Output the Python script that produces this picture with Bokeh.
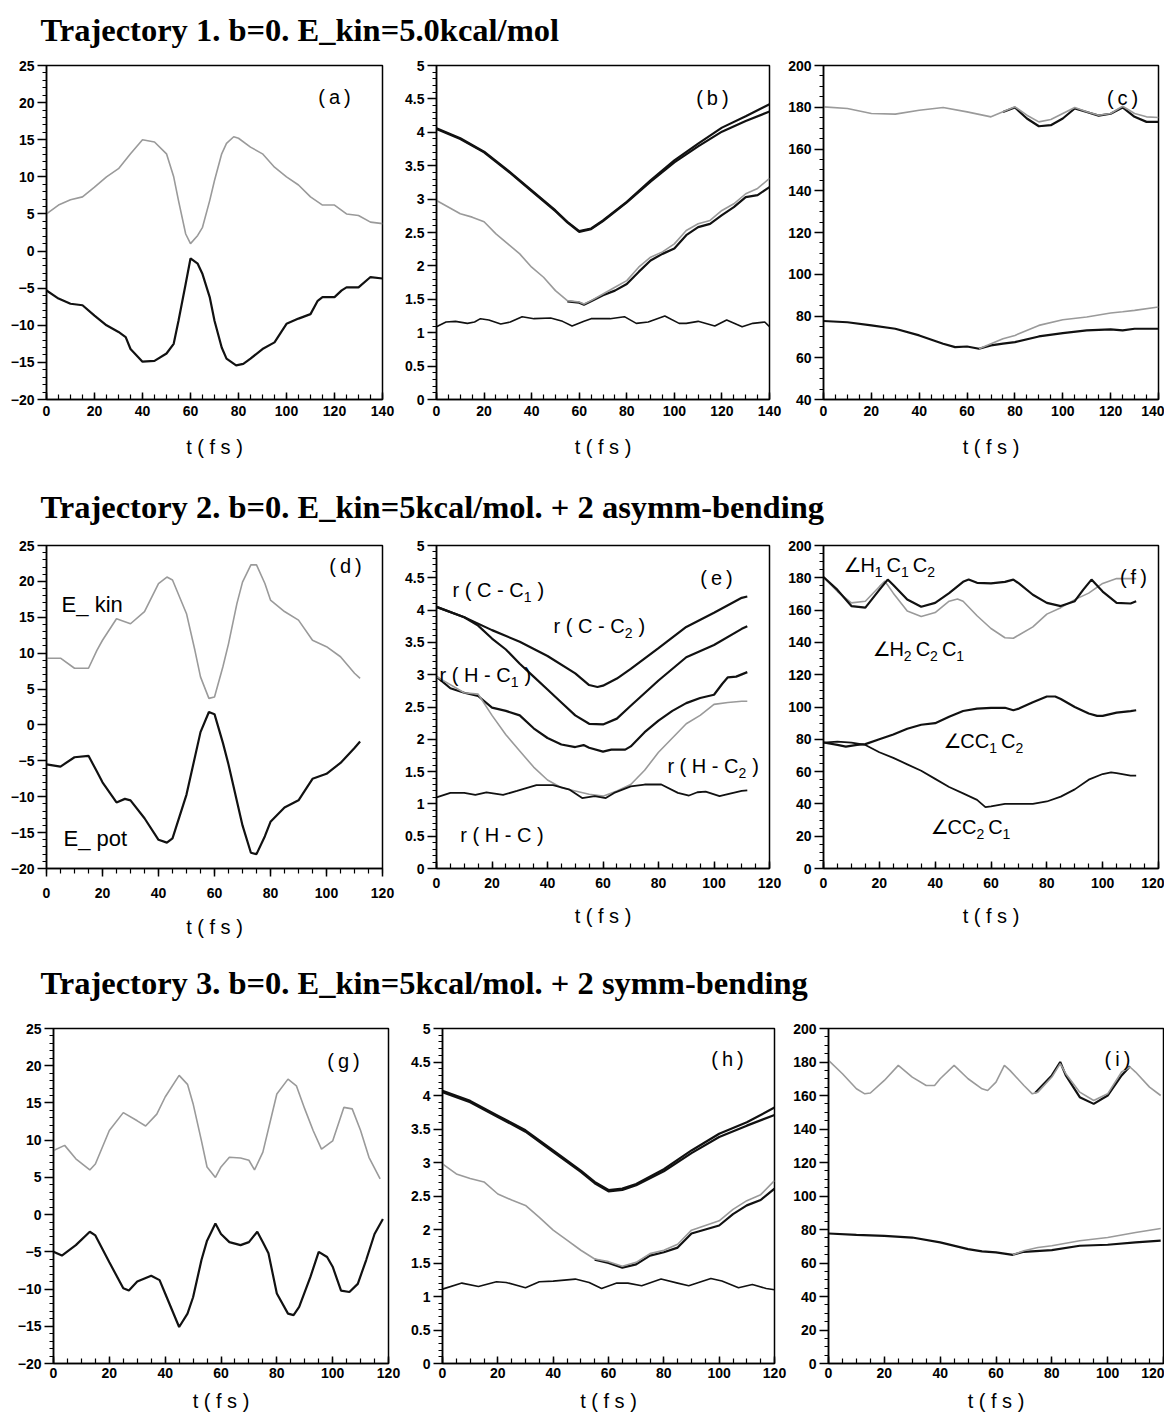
from bokeh.plotting import figure
from bokeh.models import Range1d, FixedTicker, Label, NumeralTickFormatter
from bokeh.layouts import column, row
from bokeh.embed import file_html
from bokeh.resources import INLINE

# ---------------- data ----------------
TITLES = ["Trajectory 1. b=0. E_kin=5.0kcal/mol",
          "Trajectory 2. b=0. E_kin=5kcal/mol. + 2 asymm-bending",
          "Trajectory 3. b=0. E_kin=5kcal/mol. + 2 symm-bending"]
XLABEL = "t ( f s )"

# (a) energies, trajectory 1
a_tk = [0,5,10,15,20,25,30,35,40,45,50,53,55,58,60,63,65,68,70,73,75,78,80,85,90,95,100,105,110,115,120,125,130,135,140]
a_kin = [5.0,6.2,6.9,7.3,8.6,10.0,11.1,13.1,15.0,14.7,13.1,10.0,6.8,2.3,1.0,2.1,3.2,6.8,9.5,13.1,14.5,15.4,15.2,14.0,13.1,11.3,10.0,8.9,7.3,6.2,6.2,5.0,4.8,3.9,3.7]
a_tp = [0,5,10,15,20,25,30,33,35,40,45,50,53,55,58,60,63,65,68,70,73,75,79,82,85,90,95,100,105,110,113,115,120,123,125,130,135,140]
a_pot = [-5.3,-6.4,-7.1,-7.3,-8.7,-10.0,-10.9,-11.6,-13.2,-14.9,-14.8,-13.8,-12.5,-9.4,-4.4,-1.0,-1.7,-3.1,-6.2,-9.4,-13.0,-14.5,-15.4,-15.2,-14.5,-13.2,-12.3,-9.8,-9.1,-8.5,-6.7,-6.2,-6.2,-5.3,-4.9,-4.9,-3.5,-3.7]

# (b) distances, trajectory 1
b_t = [0,10,20,30,40,50,55,60,65,70,80,90,100,110,120,130,140]
b_cc1 = [4.06,3.91,3.71,3.43,3.13,2.83,2.66,2.52,2.56,2.68,2.96,3.28,3.58,3.83,4.07,4.24,4.42]
b_cc2 = [4.05,3.90,3.70,3.42,3.12,2.82,2.65,2.51,2.55,2.67,2.95,3.26,3.55,3.79,4.01,4.17,4.31]
b_tg = [0,10,15,20,25,30,35,40,45,50,55,60,62,65,70,75,80,85,90,95,100,105,110,115,120,125,130,135,140]
b_hc2 = [2.98,2.78,2.73,2.66,2.48,2.33,2.18,1.98,1.83,1.63,1.48,1.46,1.43,1.48,1.58,1.68,1.78,1.98,2.13,2.21,2.33,2.53,2.63,2.68,2.83,2.93,3.08,3.16,3.31]
b_tb = [55,60,62,65,70,75,80,85,90,95,100,105,110,115,120,125,130,135,140]
b_hc1 = [1.47,1.45,1.42,1.47,1.56,1.63,1.73,1.91,2.08,2.18,2.26,2.46,2.58,2.63,2.76,2.88,3.03,3.06,3.18]
b_th = [0,4,8,13,16,18.5,22,27,31,36,41,48,53,57,62,65,73,79,84,89,96,102,105,110,117,122,128.5,133,138,140]
b_hc = [1.09,1.16,1.17,1.14,1.16,1.21,1.19,1.13,1.16,1.24,1.21,1.22,1.17,1.10,1.17,1.21,1.21,1.24,1.14,1.16,1.25,1.14,1.14,1.17,1.10,1.19,1.09,1.14,1.16,1.09]

# (c) angles, trajectory 1
c_tg = [0,10,20,30,40,50,60,70,75,80,85,90,95,100,105,110,115,120,125,130,135,140]
c_h2 = [180.2,179.4,177.0,176.7,178.6,179.9,177.8,175.4,177.8,180.2,176.2,173.0,174.1,177.0,179.9,177.8,176.2,177.0,180.5,177.0,175.4,175.1]
c_tb = [75,80,85,90,95,100,105,110,115,120,125,130,135,140]
c_h1 = [177.7,179.9,174.6,170.9,171.4,174.6,179.4,177.7,176.0,176.9,179.9,175.4,173.0,173.0]
c_tc = [0,10,20,30,40,50,55,60,65,70,75,80,90,100,110,120,125,130,140]
c_cc1 = [77.6,77.0,75.5,73.9,70.7,66.7,65.1,65.4,64.3,65.9,66.8,67.5,70.2,71.8,73.1,73.6,73.1,73.9,73.9]
c_tcg = [65,70,75,80,90,100,110,120,125,130,140]
c_cc2 = [64.3,66.7,69.1,70.7,75.5,78.2,79.5,81.4,82.0,82.7,84.3]

# (d) energies, trajectory 2
d_tk = [0,5,10,15,18,20,25,30,35,40,43,45,50,53,55,58,60,63,65,68,70,73,75,78,80,85,90,95,100,105,110,112]
d_kin = [9.3,9.3,7.9,7.9,10.4,11.8,14.8,14.1,15.8,19.7,20.6,20.2,15.5,10.4,6.7,3.7,3.9,8.1,11.3,16.9,19.9,22.3,22.3,19.7,17.4,15.8,14.6,11.8,10.9,9.5,7.2,6.5]
d_tp = [0,5,10,15,18,20,25,28,30,35,40,43,45,50,55,58,60,63,65,70,73,75,78,80,85,90,95,100,105,110,112]
d_pot = [-5.5,-5.8,-4.5,-4.3,-6.5,-8.0,-10.8,-10.3,-10.5,-13.0,-16.0,-16.4,-15.8,-9.7,-1.0,1.8,1.5,-2.5,-5.5,-14.0,-17.8,-18.0,-15.5,-13.5,-11.5,-10.5,-7.5,-6.8,-5.3,-3.2,-2.3]

# (e) distances, trajectory 2
e_t1 = [0,10,20,30,40,50,55,58,60,65,70,80,90,100,110,112]
e_cc1 = [4.05,3.89,3.69,3.51,3.29,3.02,2.84,2.81,2.83,2.94,3.09,3.41,3.74,3.96,4.19,4.21]
e_t2 = [0,10,15,20,25,30,35,40,45,50,55,60,65,70,80,90,100,110,112]
e_cc2 = [4.05,3.89,3.76,3.56,3.39,3.17,2.97,2.77,2.57,2.37,2.24,2.23,2.32,2.52,2.91,3.27,3.46,3.71,3.75]
e_t3 = [0,5,10,15,20,25,30,35,40,45,50,53,55,60,63,68,70,75,80,85,90,95,100,103,105,108,112]
e_hc1 = [2.97,2.79,2.72,2.67,2.49,2.44,2.37,2.17,2.02,1.92,1.88,1.91,1.87,1.81,1.84,1.84,1.89,2.11,2.29,2.44,2.56,2.64,2.69,2.86,2.96,2.97,3.04]
e_t4 = [0,10,15,20,25,30,35,40,45,50,55,60,65,70,75,80,85,90,95,100,105,110,112]
e_hc2 = [2.97,2.72,2.70,2.37,2.07,1.82,1.57,1.37,1.25,1.20,1.15,1.12,1.20,1.30,1.52,1.80,2.02,2.24,2.37,2.54,2.57,2.59,2.59]
e_t5 = [0,5,10,14,18,24,29,36,42,48,52.5,57,61,64,70,75,81,87,91,94,97,102,105,110,112]
e_hc = [1.10,1.17,1.17,1.14,1.18,1.14,1.20,1.29,1.29,1.22,1.09,1.12,1.09,1.17,1.27,1.30,1.30,1.17,1.13,1.18,1.19,1.12,1.15,1.20,1.21]

# (f) angles, trajectory 2
f_t1 = [0,5,10,15,20,23,25,30,35,40,45,50,52,55,60,65,68,70,75,80,85,90,93,96,100,105,110,112]
f_h1 = [180.5,172.5,162.5,161.5,172.5,178.9,175.5,166.5,162.1,164.5,170.5,177.5,178.9,176.9,176.5,177.5,178.9,176.5,169.5,164.5,162.5,165.5,172.5,178.9,171.5,164.5,164.1,165.5]
f_t2 = [0,5,10,15,20,22,25,30,35,40,45,48,50,55,60,65,68,70,75,80,85,90,95,100,105,110,112]
f_h2 = [180.5,171.5,164.5,165.5,174.5,177.9,170.5,159.5,156.1,158.5,165.5,166.9,165.5,156.5,148.6,142.9,142.6,144.6,149.6,157.5,161.5,166.5,170.5,176.5,179.5,179.5,179.5]
f_t3 = [0,5,8,12,15,20,25,30,35,40,45,50,55,60,65,68,70,75,80,83,85,90,95,98,100,105,110,112]
f_cc1 = [78,76.5,75.5,76.5,77,80,83,86.5,89,90,94,97.5,99,99.5,99.5,98,99,103,106.5,106.5,105,100,96,94.5,94.5,96.5,97.5,98]
f_t4 = [0,5,10,15,20,25,30,35,40,45,50,55,58,60,65,70,75,80,85,90,95,100,103,105,110,112]
f_cc2 = [78,78.5,78,76.5,72,68.5,64.5,60.5,55.5,50.5,46.5,42.5,38,38.5,40,40,40,41.5,44.5,49,55,58.5,59.5,59,57.5,57.5]

# (g) energies, trajectory 3
g_tk = [0,4,8,13,15,20,25,30,33,37,40,45,48,50,53,55,58,60,63,67,70,72,75,80,84,87,90,93,96,100,104,107,110,113,117]
g_kin = [8.6,9.3,7.5,6.0,6.8,11.3,13.7,12.6,11.9,13.5,15.8,18.7,17.5,14.9,9.9,6.4,5.0,6.4,7.7,7.6,7.3,6.0,8.4,16.2,18.2,17.3,14.2,11.3,8.8,9.9,14.4,14.2,11.3,7.7,4.8]
g_tp = [0,3,8,13,15,20,25,27,30,35,38,40,45,48,50,53,55,58,60,63,67,70,73,75,77,80,84,86,88,92,95,98,100,103,106,109,112,115,118]
g_pot = [-5.0,-5.5,-4.1,-2.3,-2.8,-6.4,-9.9,-10.2,-9.0,-8.2,-8.8,-10.6,-15.1,-13.3,-11.1,-6.1,-3.5,-1.2,-2.6,-3.7,-4.1,-3.7,-2.3,-3.7,-5.2,-10.6,-13.3,-13.5,-12.4,-8.4,-5.0,-5.7,-7.0,-10.2,-10.4,-9.3,-6.1,-2.6,-0.6]

# (h) distances, trajectory 3
h_t = [0,10,20,30,40,50,55,60,65,70,80,90,100,110,120]
h_cc1 = [4.07,3.92,3.70,3.48,3.18,2.88,2.71,2.59,2.61,2.68,2.90,3.18,3.43,3.60,3.82]
h_cc2 = [4.05,3.90,3.68,3.46,3.16,2.86,2.69,2.57,2.59,2.66,2.87,3.14,3.38,3.55,3.71]
h_tg = [0,5,10,15,20,25,30,35,40,45,50,55,60,65,70,75,80,85,90,95,100,105,110,115,120]
h_hc2 = [2.98,2.83,2.76,2.71,2.53,2.44,2.36,2.18,1.99,1.84,1.69,1.56,1.52,1.45,1.51,1.64,1.69,1.78,1.99,2.06,2.13,2.30,2.43,2.52,2.73]
h_tb = [55,60,65,70,75,80,85,90,95,100,105,110,115,120]
h_hc1 = [1.55,1.50,1.43,1.48,1.61,1.66,1.73,1.94,2.00,2.06,2.23,2.36,2.44,2.61]
h_th = [0,7,13,19.5,23,30,35,40,48,53,57.5,63,67,72,79,85,89,97,101,107,112,117,120]
h_hc = [1.11,1.20,1.15,1.22,1.21,1.13,1.22,1.23,1.26,1.21,1.12,1.20,1.20,1.16,1.26,1.20,1.16,1.27,1.23,1.13,1.18,1.12,1.10]

# (i) angles, trajectory 3
i_tg = [0,5,10,13,15,20,25,30,35,38,40,45,50,55,57,60,63,65,70,73,75,80,83,85,90,95,100,105,108,110,115,119]
i_h2 = [181,173,164,161,161.5,169,178,171,166,166,170,178,170,164,163,168,178,175,166,161,162,171,179,173,162,157,161,174,177,174,165,160]
i_tb = [74,80,83,85,90,95,100,105,108]
i_h1 = [161.5,172,180,172,159,155,160,172,177.5]
i_tc = [0,10,20,30,40,50,55,60,66,70,80,90,100,110,119]
i_cc1 = [77.6,76.8,76.2,75.2,72.3,68.3,66.9,66.3,64.9,66.7,67.7,70.3,70.9,72.3,73.3]
i_tcg = [66,70,75,80,90,100,110,119]
i_cc2 = [64.9,67.3,69.3,70.3,73.3,75.2,78.2,80.6]

# ---------------- styling helpers ----------------
BLACK = "#111111"
GRAY = "#9a9a9a"
SANS = "Liberation Sans"

# approximate advance widths (em) used to lay out subscripted labels
ADV = {'r': 0.333, ' ': 0.278, '(': 0.333, ')': 0.333, 'C': 0.722, '-': 0.333,
       'H': 0.722, '1': 0.556, '2': 0.556, '\u2220': 0.84}


def frange(lo, hi, step):
    n = int(round((hi - lo) / step))
    return [round(lo + k * step, 6) for k in range(n + 1)]


def title_fig(text, h, base):
    p = figure(width=1164, height=h, x_range=Range1d(0, 1), y_range=Range1d(0, 1),
               output_backend="svg", toolbar_location=None,
               x_axis_location=None, y_axis_location=None, min_border=0)
    p.grid.visible = False
    p.outline_line_color = None
    p.add_layout(Label(x=40, y=base, x_units="screen", y_units="screen", text=text,
                       text_font="Liberation Serif", text_font_style="bold",
                       text_font_size="32.5px", text_baseline="alphabetic", text_color="black"))
    return p


def panel(w, h, bl, br, bt, bb, xmax, ylo, yhi, ystep, yminor, fmt=None, xout=False,
          xstand=6, lstand=17):
    p = figure(width=w, height=h, x_range=Range1d(0, xmax), y_range=Range1d(ylo, yhi),
               output_backend="svg", toolbar_location=None,
               min_border_left=bl, min_border_right=br, min_border_top=bt, min_border_bottom=bb)
    p.grid.visible = False
    p.outline_line_color = "black"
    p.outline_line_width = 1.5
    p.xaxis.ticker = FixedTicker(ticks=frange(0, xmax, 20), minor_ticks=frange(0, xmax, 5))
    p.yaxis.ticker = FixedTicker(ticks=frange(ylo, yhi, ystep), minor_ticks=frange(ylo, yhi, yminor))
    if fmt:
        p.yaxis.formatter = NumeralTickFormatter(format=fmt)
    for ax in (p.xaxis[0], p.yaxis[0]):
        ax.axis_line_width = 1.5
        ax.major_tick_line_width = 1.5
        ax.minor_tick_line_width = 1.2
        ax.major_label_text_font = SANS
        ax.major_label_text_font_style = "bold"
        ax.major_label_text_font_size = "14px"
        ax.major_label_text_color = "black"
    if xout:
        p.xaxis.major_tick_in = 0
        p.xaxis.major_tick_out = 8
        p.xaxis.minor_tick_in = 0
        p.xaxis.minor_tick_out = 5
    else:
        p.xaxis.major_tick_in = 7
        p.xaxis.major_tick_out = 0
        p.xaxis.minor_tick_in = 5
        p.xaxis.minor_tick_out = 0
    p.xaxis.major_label_standoff = xstand
    p.yaxis.major_tick_in = 0
    p.yaxis.major_tick_out = 9
    p.yaxis.minor_tick_in = 0
    p.yaxis.minor_tick_out = 4
    p.yaxis.major_label_standoff = 3
    p.xaxis.axis_label = XLABEL
    p.xaxis.axis_label_text_font = SANS
    p.xaxis.axis_label_text_font_style = "normal"
    p.xaxis.axis_label_text_font_size = "20px"
    p.xaxis.axis_label_text_color = "black"
    p.xaxis.axis_label_standoff = lstand
    return p


def lbl(p, x, y, text, size="20px", align="left"):
    p.add_layout(Label(x=x, y=y, text=text, text_font=SANS, text_font_size=size,
                       text_align=align, text_baseline="middle", text_color="black"))


def rich(p, x, y, segs, size=20, sub=14, gap=0):
    """segs: list of (text, kind) with kind in 'n' (normal), 's' (subscript), 'a' (angle sign)"""
    off = 0.0
    for txt, kind in segs:
        fs = sub if kind == 's' else size
        font = "DejaVu Sans" if kind == 'a' else SANS
        yo = -7 if kind == 's' else 0
        p.add_layout(Label(x=x, y=y, x_offset=off, y_offset=yo, text=txt, text_font=font,
                           text_font_size=f"{fs}px", text_align="left",
                           text_baseline="middle", text_color="black"))
        off += sum(ADV.get(ch, 0.55) for ch in txt) * fs
        if kind == 's':
            off += gap


def gray(p, t, v):
    p.line(t, v, line_color=GRAY, line_width=1.6)


def black(p, t, v, w=2.2):
    p.line(t, v, line_color=BLACK, line_width=w)

# ---------------- row 1 ----------------
pa = panel(400, 422, 46, 18, 7, 81, 140, -20, 25, 5, 1)
black(pa, a_tp, a_pot)
gray(pa, a_tk, a_kin)
lbl(pa, 120, 20.7, "(\u2009a\u2009)", align="center")

pb = panel(385, 422, 36, 16, 7, 81, 140, 0, 5, 0.5, 0.1, fmt="0.[0]")
black(pb, b_t, b_cc1)
black(pb, b_t, b_cc2)
black(pb, b_tb, b_hc1)
gray(pb, b_tg, b_hc2)
black(pb, b_th, b_hc, w=1.6)
lbl(pb, 116, 4.52, "(\u2009b\u2009)", align="center")

pc = panel(379, 422, 38, 6, 7, 81, 140, 40, 200, 20, 5)
black(pc, c_tc, c_cc1)
gray(pc, c_tcg, c_cc2)
black(pc, c_tb, c_h1)
gray(pc, c_tg, c_h2)
lbl(pc, 125, 184.2, "(\u2009c\u2009)", align="center")

# ---------------- row 2 ----------------
pd = panel(400, 420, 46, 18, 10, 87, 120, -20, 25, 5, 1, xout=True, xstand=11, lstand=15)
black(pd, d_tp, d_pot)
gray(pd, d_tk, d_kin)
lbl(pd, 106.8, 22.1, "(\u2009d\u2009)", align="center")
lbl(pd, 5.4, 16.8, "E_ kin", size="22px")
lbl(pd, 6.1, -15.8, "E_ pot", size="22px")

pe = panel(385, 420, 36, 16, 10, 77, 120, 0, 5, 0.5, 0.1, fmt="0.[0]", xstand=9, lstand=14)
black(pe, e_t1, e_cc1)
black(pe, e_t2, e_cc2)
black(pe, e_t3, e_hc1)
gray(pe, e_t4, e_hc2)
black(pe, e_t5, e_hc, w=1.8)
lbl(pe, 100.9, 4.5, "(\u2009e\u2009)", align="center")
rich(pe, 5.8, 4.31, [("r ( C - C", 'n'), ("1", 's'), (")", 'n')], gap=6)
rich(pe, 42.2, 3.76, [("r ( C - C", 'n'), ("2", 's'), (")", 'n')], gap=6)
rich(pe, 1.1, 2.99, [("r ( H - C", 'n'), ("1", 's'), (")", 'n')], gap=6)
rich(pe, 83.2, 1.59, [("r ( H - C", 'n'), ("2", 's'), (")", 'n')], gap=6)
lbl(pe, 8.6, 0.52, "r ( H - C )")

pf = panel(379, 420, 38, 6, 10, 77, 120, 0, 200, 20, 5, xstand=9, lstand=14)
black(pf, f_t3, f_cc1)
black(pf, f_t4, f_cc2, w=1.8)
gray(pf, f_t2, f_h2)
black(pf, f_t1, f_h1)
lbl(pf, 111, 180.8, "(\u2009f\u2009)", align="center")
rich(pf, 7.2, 188, [("\u2220", 'a'), ("H", 'n'), ("1", 's'), ("C", 'n'), ("1", 's'), ("C", 'n'), ("2", 's')], gap=4)
rich(pf, 17.6, 135.7, [("\u2220", 'a'), ("H", 'n'), ("2", 's'), ("C", 'n'), ("2", 's'), ("C", 'n'), ("1", 's')], gap=4)
rich(pf, 43, 78.7, [("\u2220", 'a'), ("CC", 'n'), ("1", 's'), ("C", 'n'), ("2", 's')], gap=4)
rich(pf, 38.4, 25.8, [("\u2220", 'a'), ("CC", 'n'), ("2", 's'), ("C", 'n'), ("1", 's')], gap=4)

# ---------------- row 3 ----------------
pg = panel(405, 400, 53, 17, 10, 55, 120, -20, 25, 5, 1, xstand=4, lstand=9)
black(pg, g_tp, g_pot)
gray(pg, g_tk, g_kin)
lbl(pg, 103.9, 20.7, "(\u2009g\u2009)", align="center")

ph = panel(385, 400, 37, 16, 10, 55, 120, 0, 5, 0.5, 0.1, fmt="0.[0]", xstand=4, lstand=9)
black(ph, h_t, h_cc1)
black(ph, h_t, h_cc2)
black(ph, h_tb, h_hc1)
gray(ph, h_tg, h_hc2)
black(ph, h_th, h_hc, w=1.6)
lbl(ph, 103, 4.55, "(\u2009h\u2009)", align="center")

pi = panel(374, 400, 38, 1, 10, 55, 120, 0, 200, 20, 5, xstand=4, lstand=9)
black(pi, i_tc, i_cc1)
gray(pi, i_tcg, i_cc2)
black(pi, i_tb, i_h1)
gray(pi, i_tg, i_h2)
lbl(pi, 103.5, 182, "(\u2009i\u2009)", align="center")

layout = column(
    title_fig(TITLES[0], 58, 29),
    row(pa, pb, pc),
    title_fig(TITLES[1], 55, 29),
    row(pd, pe, pf),
    title_fig(TITLES[2], 63, 36),
    row(pg, ph, pi),
)

open("out.html", "w").write(file_html(layout, INLINE))
